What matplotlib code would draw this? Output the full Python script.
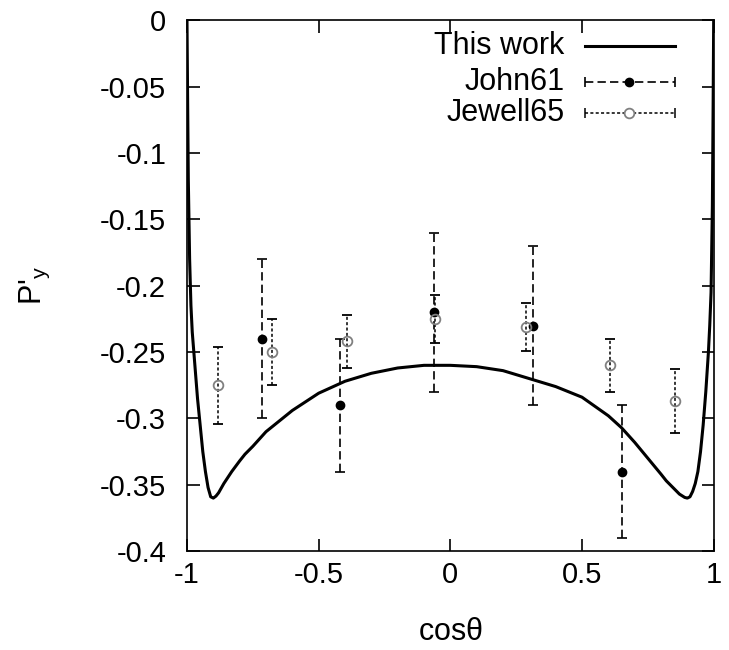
import matplotlib.pyplot as plt

plt.rcParams["font.family"] = ["Liberation Sans", "DejaVu Sans"]

# theory curve
curve_x = [-1.0, -0.998, -0.995, -0.99, -0.985, -0.98, -0.97, -0.96, -0.95, -0.94,
           -0.93, -0.92, -0.91, -0.90, -0.89, -0.88, -0.86, -0.83, -0.80, -0.78,
           -0.75, -0.70, -0.65, -0.60, -0.50, -0.40, -0.30, -0.20, -0.10, 0.0,
           0.10, 0.20, 0.30, 0.40, 0.50, 0.60, 0.65, 0.70, 0.75, 0.80, 0.82, 0.85,
           0.87, 0.89, 0.90, 0.91, 0.92, 0.93, 0.94, 0.95, 0.96, 0.97, 0.98, 0.985,
           0.99, 0.995, 0.998, 1.0]
curve_y = [0.0, -0.05, -0.12, -0.18, -0.215, -0.235, -0.26, -0.285, -0.305, -0.325,
           -0.34, -0.352, -0.359, -0.36, -0.3585, -0.356, -0.349, -0.34, -0.332, -0.327,
           -0.321, -0.31, -0.302, -0.294, -0.281, -0.272, -0.266, -0.262, -0.26, -0.26,
           -0.261, -0.264, -0.27, -0.276, -0.284, -0.298, -0.307, -0.318, -0.33, -0.342,
           -0.347, -0.353, -0.357, -0.3595, -0.36, -0.359, -0.355, -0.349, -0.34, -0.325,
           -0.305, -0.28, -0.25, -0.23, -0.205, -0.14, -0.06, 0.0]

john_x = [-0.717, -0.418, -0.063, 0.314, 0.65]
john_y = [-0.24, -0.29, -0.22, -0.23, -0.34]
john_err = [0.06, 0.05, 0.06, 0.06, 0.05]

jewell_x = [-0.881, -0.676, -0.394, -0.06, 0.287, 0.608, 0.852]
jewell_y = [-0.275, -0.25, -0.242, -0.225, -0.231, -0.26, -0.287]
jewell_err = [0.029, 0.025, 0.02, 0.018, 0.018, 0.02, 0.024]

x_ticks = [-1, -0.5, 0, 0.5, 1]
x_tick_labels = ["-1", "-0.5", "0", "0.5", "1"]
y_ticks = [0, -0.05, -0.1, -0.15, -0.2, -0.25, -0.3, -0.35, -0.4]
y_tick_labels = ["0", "-0.05", "-0.1", "-0.15", "-0.2", "-0.25", "-0.3", "-0.35", "-0.4"]

john_dash = (0, (5, 2.5))
jewell_dash = (0, (2, 1.5))
jewell_color = "#808080"
fs = 21

fig = plt.figure(figsize=(7.29, 6.5), dpi=100)
ax = fig.add_axes([0.2565, 0.152, 0.7225, 0.817])

ax.plot(curve_x, curve_y, color="black", lw=2.2, solid_joinstyle="round")

eb1 = ax.errorbar(john_x, john_y, yerr=john_err, fmt="o", color="black", ms=6,
                  ecolor="black", elinewidth=1.2, capsize=3.5, capthick=1.2)
eb1[2][0].set_linestyle(john_dash)

eb2 = ax.errorbar(jewell_x, jewell_y, yerr=jewell_err, fmt="o", mfc="none",
                  mec=jewell_color, mew=1.3, ms=7, ecolor="black", elinewidth=1.1,
                  capsize=3.5, capthick=1.1)
eb2[2][0].set_linestyle(jewell_dash)

ax.set_xlim(-1, 1)
ax.set_ylim(-0.4, 0)
ax.set_xticks(x_ticks)
ax.set_xticklabels(x_tick_labels)
ax.set_yticks(y_ticks)
ax.set_yticklabels(y_tick_labels)
ax.tick_params(direction="in", top=True, right=True, length=9, width=1.2,
               labelsize=fs)
ax.tick_params(axis="x", pad=7)
ax.tick_params(axis="y", pad=15)
for s in ax.spines.values():
    s.set_linewidth(1.2)

ax.set_xlabel(r"cos$\mathregular{\theta}$", fontsize=22, va="center")
ax.xaxis.set_label_coords(0.5, -0.153)
ax.set_ylabel(r"P'$_\mathregular{y}$", fontsize=22, va="center")
ax.yaxis.set_label_coords(-0.288, 0.5)

# hand-made legend in the gnuplot style (horizontal error-bar samples)
tr = ax.transAxes
rows = [0.952, 0.883, 0.825]
x0, x1, xm = 0.755, 0.926, 0.84
lfs = 22
ax.text(0.717, rows[0], "This work", transform=tr, ha="right", va="center", fontsize=lfs)
ax.plot([x0, x1], [rows[0]] * 2, transform=tr, color="black", lw=2.2, clip_on=False)

ax.text(0.717, rows[1], "John61", transform=tr, ha="right", va="center", fontsize=lfs)
ax.plot([x0, x1], [rows[1]] * 2, transform=tr, color="black", lw=1.2, ls=john_dash)
ax.plot([x0, x1], [rows[1]] * 2, transform=tr, ls="none", marker="|", ms=7,
        mew=1.2, color="black")
ax.plot([xm], [rows[1]], transform=tr, marker="o", ms=6, color="black")

ax.text(0.717, rows[2], "Jewell65", transform=tr, ha="right", va="center", fontsize=lfs)
ax.plot([x0, x1], [rows[2]] * 2, transform=tr, color="black", lw=1.1, ls=jewell_dash)
ax.plot([x0, x1], [rows[2]] * 2, transform=tr, ls="none", marker="|", ms=7,
        mew=1.1, color="black")
ax.plot([xm], [rows[2]], transform=tr, marker="o", ms=7, mfc="white",
        mec=jewell_color, mew=1.3)

fig.savefig("out.png", dpi=100)
